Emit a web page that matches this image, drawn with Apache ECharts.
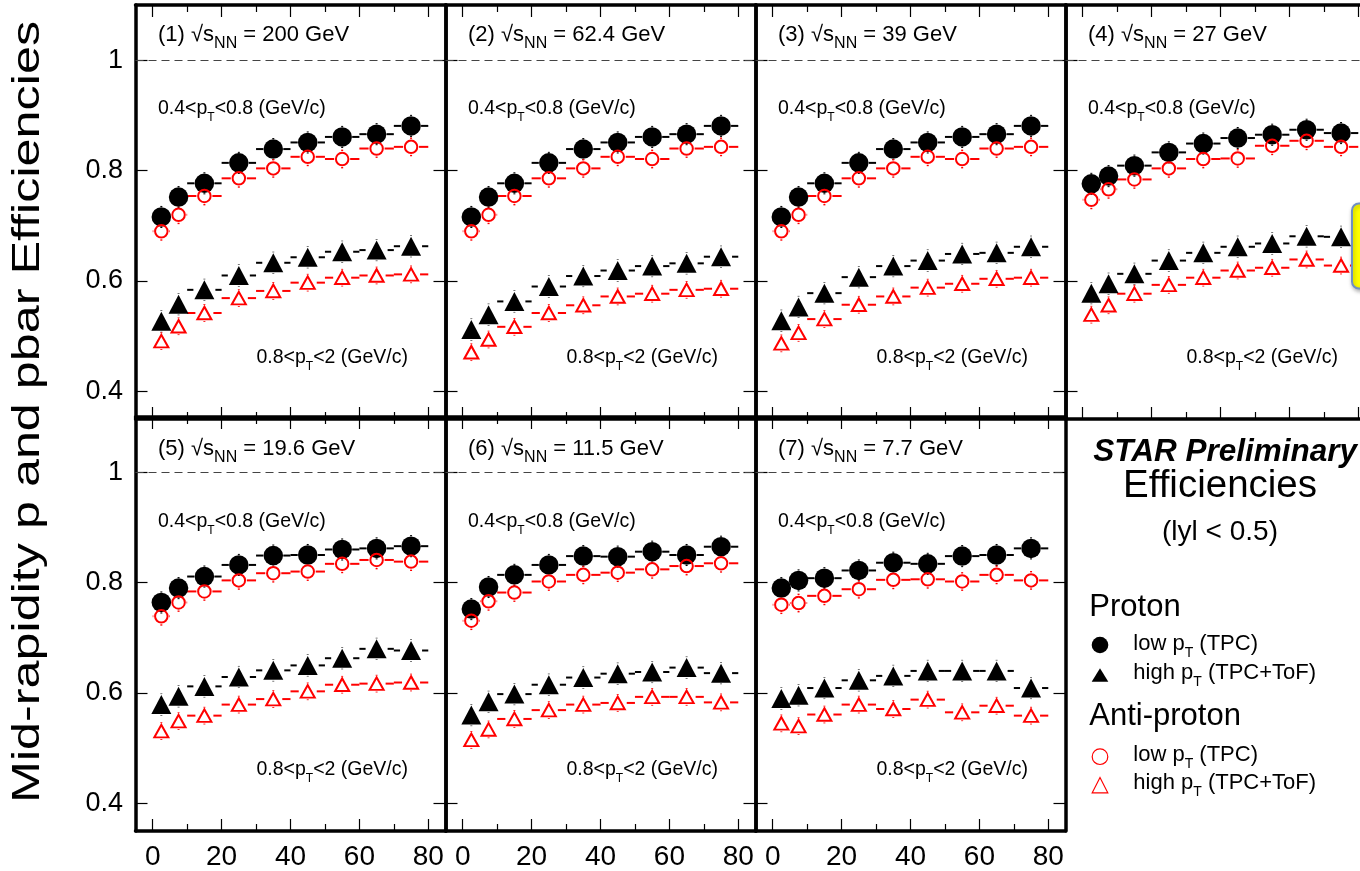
<!DOCTYPE html>
<html><head><meta charset="utf-8">
<script src="https://cdn.jsdelivr.net/npm/echarts@6/dist/echarts.min.js"></script>
<style>html,body{margin:0;padding:0;background:#fff}#c{width:1360px;height:871px}</style>
</head><body><div id="c"></div><script>
// ---- data ----
const binCenters = [2.5, 7.5, 15, 25, 35, 45, 55, 65, 75];
const binLow     = [0, 5, 10, 20, 30, 40, 50, 60, 70];
const binHigh    = [5, 10, 20, 30, 40, 50, 60, 70, 80];
const energies = ['200', '62.4', '39', '27', '19.6', '11.5', '7.7'];
const xTicks = [0, 20, 40, 60, 80];
const xMinorTicks = [10, 30, 50, 70];
const yTicks = [0.4, 0.6, 0.8, 1];

// proton, low pT (TPC) - filled circles
const protonLow = [
  [0.716, 0.752, 0.777, 0.814, 0.839, 0.851, 0.861, 0.866, 0.881],
  [0.716, 0.752, 0.777, 0.814, 0.839, 0.851, 0.861, 0.866, 0.881],
  [0.716, 0.752, 0.777, 0.814, 0.839, 0.851, 0.861, 0.866, 0.881],
  [0.776, 0.790, 0.809, 0.833, 0.849, 0.859, 0.865, 0.874, 0.868],
  [0.764, 0.790, 0.811, 0.832, 0.849, 0.850, 0.860, 0.862, 0.866],
  [0.752, 0.792, 0.814, 0.832, 0.848, 0.847, 0.856, 0.850, 0.865],
  [0.790, 0.804, 0.808, 0.822, 0.836, 0.834, 0.848, 0.850, 0.862]
];
// anti-proton, low pT (TPC) - open circles
const antiLow = [
  [0.690, 0.720, 0.754, 0.786, 0.804, 0.825, 0.821, 0.840, 0.843],
  [0.690, 0.720, 0.754, 0.786, 0.804, 0.825, 0.821, 0.840, 0.843],
  [0.690, 0.720, 0.754, 0.786, 0.804, 0.825, 0.821, 0.840, 0.843],
  [0.747, 0.766, 0.784, 0.804, 0.821, 0.822, 0.845, 0.854, 0.843],
  [0.739, 0.764, 0.784, 0.804, 0.817, 0.820, 0.834, 0.841, 0.838],
  [0.731, 0.766, 0.782, 0.802, 0.814, 0.818, 0.824, 0.830, 0.835],
  [0.760, 0.763, 0.776, 0.788, 0.805, 0.806, 0.802, 0.814, 0.804]
];
// proton, high pT (TPC+ToF) - filled triangles
const protonHigh = [
  [0.527, 0.558, 0.584, 0.610, 0.633, 0.643, 0.653, 0.656, 0.663],
  [0.512, 0.539, 0.563, 0.590, 0.609, 0.619, 0.627, 0.632, 0.644],
  [0.528, 0.553, 0.578, 0.607, 0.627, 0.637, 0.649, 0.651, 0.662],
  [0.578, 0.595, 0.613, 0.637, 0.651, 0.662, 0.668, 0.681, 0.680],
  [0.579, 0.594, 0.612, 0.629, 0.641, 0.650, 0.663, 0.680, 0.677],
  [0.560, 0.584, 0.598, 0.615, 0.628, 0.635, 0.638, 0.646, 0.636],
  [0.590, 0.596, 0.609, 0.623, 0.631, 0.640, 0.640, 0.640, 0.609]
];
// anti-proton, high pT (TPC+ToF) - open triangles
const antiHigh = [
  [0.491, 0.518, 0.542, 0.569, 0.582, 0.597, 0.606, 0.610, 0.612],
  [0.471, 0.494, 0.517, 0.542, 0.556, 0.572, 0.577, 0.584, 0.586],
  [0.487, 0.506, 0.531, 0.557, 0.572, 0.588, 0.595, 0.604, 0.606],
  [0.539, 0.556, 0.577, 0.593, 0.606, 0.619, 0.624, 0.639, 0.628],
  [0.531, 0.549, 0.559, 0.579, 0.589, 0.603, 0.615, 0.617, 0.619],
  [0.515, 0.534, 0.553, 0.569, 0.579, 0.582, 0.593, 0.593, 0.583],
  [0.545, 0.540, 0.561, 0.579, 0.571, 0.588, 0.565, 0.577, 0.559]
];
const errProtonLow = 0.02, errProtonHigh = 0.02, errAntiLow = 0.017, errAntiHigh = 0.016;

// ---- layout / style ----
const FONT = 'Liberation Sans';
const RED = '#ff0000';
const PW = 310, PH = 414;
const lefts = [135.5, 445.5, 755.5, 1065.5];
const tops = [5, 417];
const titleBase = [42.7, 456.7], lowBase = [115, 528.3], highBase = [364, 776];

const grid = [], xAxis = [], yAxis = [], series = [], graphic = [];

function errSeries(vals, err, color, hw, hh, xi, yi) {
  return {
    type: 'custom', xAxisIndex: xi, yAxisIndex: yi, silent: true, clip: false,
    data: vals.map((v, i) => [binCenters[i], v, binLow[i], binHigh[i], err]),
    encode: { x: 0, y: 1 },
    renderItem: (params, api) => {
      const x = api.value(0), y = api.value(1), lo = api.value(2), hi = api.value(3), e = api.value(4);
      const c = api.coord([x, y]), cl = api.coord([lo, y]), cr = api.coord([hi, y]);
      const ct = api.coord([x, y + e]), cb = api.coord([x, y - e]);
      const st = { stroke: color, lineWidth: 2 };
      const ch = [];
      if (c[0] - hw - cl[0] > 0.5) ch.push({ type: 'line', shape: { x1: cl[0], y1: c[1], x2: c[0] - hw, y2: c[1] }, style: st });
      if (cr[0] - (c[0] + hw) > 0.5) ch.push({ type: 'line', shape: { x1: c[0] + hw, y1: c[1], x2: cr[0], y2: c[1] }, style: st });
      if (c[1] - hh - ct[1] > 0.5) ch.push({ type: 'line', shape: { x1: c[0], y1: ct[1], x2: c[0], y2: c[1] - hh }, style: st });
      if (cb[1] - (c[1] + hh) > 0.5) ch.push({ type: 'line', shape: { x1: c[0], y1: c[1] + hh, x2: c[0], y2: cb[1] }, style: st });
      return { type: 'group', children: ch };
    }
  };
}
function pts(vals) { return vals.map((v, i) => [binCenters[i], v]); }

function richText(x, y, text, fs, subFs, subPad, lh, extra) {
  return Object.assign({
    type: 'text', x: x, y: y, silent: true,
    style: {
      text: text, align: 'left', verticalAlign: 'middle', fill: '#000',
      rich: {
        n: { fontSize: fs, fontFamily: FONT, lineHeight: lh, verticalAlign: 'middle', fill: '#000' },
        s: { fontSize: subFs, fontFamily: FONT, lineHeight: subFs, padding: [subPad, 0, 0, 0], verticalAlign: 'middle', fill: '#000' }
      }
    }
  }, extra || {});
}

for (let p = 0; p < 7; p++) {
  const row = p < 4 ? 0 : 1, col = p < 4 ? p : p - 4;
  const L = lefts[col], T = tops[row];
  const gA = grid.length; grid.push({ left: L, top: T, width: PW, height: PH, outerBoundsMode: 'none', containLabel: false });
  const gB = grid.length; grid.push({ left: L, top: T, width: PW, height: PH, outerBoundsMode: 'none', containLabel: false });
  const frame = { show: true, onZero: false, lineStyle: { color: '#000', width: 3.5 } };
  const noLine = { show: false, onZero: false };
  const tickMaj = { show: true, inside: true, length: 12, customValues: xTicks, lineStyle: { color: '#000', width: 1.2 } };
  const tickMin = { show: true, inside: true, length: 7, customValues: xMinorTicks, lineStyle: { color: '#000', width: 1.2 } };
  const xb = xAxis.length;
  xAxis.push({ type: 'value', gridIndex: gA, position: 'bottom', min: -5, max: 85, axisLine: frame, splitLine: { show: false },
    axisTick: tickMaj,
    axisLabel: { show: row === 1, customValues: xTicks, fontSize: 28, fontFamily: FONT, color: '#000', margin: 12 } });
  xAxis.push({ type: 'value', gridIndex: gA, position: 'top', min: -5, max: 85, axisLine: frame, splitLine: { show: false },
    axisTick: tickMaj, axisLabel: { show: false } });
  xAxis.push({ type: 'value', gridIndex: gB, position: 'bottom', min: -5, max: 85, axisLine: noLine, splitLine: { show: false },
    axisTick: tickMin, axisLabel: { show: false } });
  xAxis.push({ type: 'value', gridIndex: gB, position: 'top', min: -5, max: 85, axisLine: noLine, splitLine: { show: false },
    axisTick: tickMin, axisLabel: { show: false } });
  const yl = yAxis.length;
  const yTick = { show: true, inside: true, length: 12, customValues: yTicks, lineStyle: { color: '#000', width: 1.2 } };
  yAxis.push({ type: 'value', gridIndex: gA, position: 'left', min: 0.35, max: 1.1, axisLine: frame, splitLine: { show: false },
    axisTick: yTick,
    axisLabel: { show: col === 0, customValues: yTicks, fontSize: 27, fontFamily: FONT, color: '#000', margin: 12.5,
      formatter: v => (Math.abs(v - 1) < 1e-9 ? '1' : Number(v).toFixed(1)) } });
  yAxis.push({ type: 'value', gridIndex: gA, position: 'right', min: 0.35, max: 1.1, axisLine: frame, splitLine: { show: false },
    axisTick: yTick, axisLabel: { show: false } });
  yAxis.push({ type: 'value', gridIndex: gB, show: false, min: 0.35, max: 1.1 });

  // black circles
  series.push(errSeries(protonLow[p], errProtonLow, '#000', 10, 10, xb, yl));
  series.push({ type: 'scatter', xAxisIndex: xb, yAxisIndex: yl, silent: true, symbol: 'circle', symbolSize: 19.5,
    itemStyle: { color: '#000', opacity: 1 }, data: pts(protonLow[p]),
    markLine: { silent: true, symbol: ['none', 'none'], label: { show: false }, animation: false,
      lineStyle: { type: [8, 5], color: '#444', width: 1.2 }, data: [{ yAxis: 1 }] } });
  // black triangles
  series.push(errSeries(protonHigh[p], errProtonHigh, '#000', 11, 10.5, xb, yl));
  series.push({ type: 'scatter', xAxisIndex: xb, yAxisIndex: yl, silent: true, symbol: 'triangle', symbolSize: [20, 19],
    itemStyle: { color: '#000', opacity: 1 }, data: pts(protonHigh[p]) });
  // red open circles
  series.push(errSeries(antiLow[p], errAntiLow, RED, 8, 8, xb, yl));
  series.push({ type: 'scatter', xAxisIndex: xb, yAxisIndex: yl, silent: true, symbol: 'circle', symbolSize: 12.5,
    itemStyle: { color: 'rgba(255,255,255,0)', borderColor: RED, borderWidth: 2, opacity: 1 }, data: pts(antiLow[p]) });
  // red open triangles
  series.push(errSeries(antiHigh[p], errAntiHigh, RED, 9, 8, xb, yl));
  series.push({ type: 'scatter', xAxisIndex: xb, yAxisIndex: yl, silent: true, symbol: 'triangle', symbolSize: [14, 12.5],
    itemStyle: { color: 'rgba(255,255,255,0)', borderColor: RED, borderWidth: 2, opacity: 1 }, data: pts(antiHigh[p]) });

  // panel texts
  graphic.push(richText(L + 22.5, titleBase[row] - 7.7,
    '{n|(' + (p + 1) + ') \u221As}{s|NN}{n| = ' + energies[p] + ' GeV}', 22, 16, 18, 36));
  graphic.push(richText(L + 22.5, lowBase[row] - 6.8,
    '{n|0.4<p}{s|T}{n|<0.8 (GeV/c)}', 19.5, 12, 18, 32));
  graphic.push(richText(L + 121, highBase[row] - 6.8,
    '{n|0.8<p}{s|T}{n|<2 (GeV/c)}', 19.5, 12, 18, 32));
}

// y-axis title
graphic.push({ type: 'text', x: 28.5, y: 412, rotation: Math.PI / 2, scaleX: 1.29, silent: true,
  style: { text: 'Mid-rapidity p and pbar Efficiencies', fontSize: 39, fontFamily: FONT, fill: '#000',
    align: 'center', verticalAlign: 'middle' } });

// legend panel
graphic.push({ type: 'text', x: 1093.3, y: 452.8, silent: true,
  style: { text: 'STAR Preliminary', fontSize: 31.5, fontWeight: 'bold', fontStyle: 'italic', fontFamily: FONT, fill: '#000',
    align: 'left', verticalAlign: 'middle' } });
graphic.push({ type: 'text', x: 1220, y: 486.7, silent: true,
  style: { text: 'Efficiencies', fontSize: 38.5, fontFamily: FONT, fill: '#000', align: 'center', verticalAlign: 'middle' } });
graphic.push({ type: 'text', x: 1220, y: 531.9, silent: true,
  style: { text: '(lyl < 0.5)', fontSize: 28, fontFamily: FONT, fill: '#000', align: 'center', verticalAlign: 'middle' } });
graphic.push({ type: 'text', x: 1089.3, y: 607.4, silent: true,
  style: { text: 'Proton', fontSize: 31, fontFamily: FONT, fill: '#000', align: 'left', verticalAlign: 'middle' } });
graphic.push({ type: 'text', x: 1089.3, y: 716, silent: true,
  style: { text: 'Anti-proton', fontSize: 31, fontFamily: FONT, fill: '#000', align: 'left', verticalAlign: 'middle' } });
graphic.push(richText(1133.3, 644, '{n|low p}{s|T}{n| (TPC)}', 22, 14, 18, 34));
graphic.push(richText(1133.3, 673, '{n|high p}{s|T}{n| (TPC+ToF)}', 22, 14, 18, 34));
graphic.push(richText(1133.3, 755, '{n|low p}{s|T}{n| (TPC)}', 22, 14, 18, 34));
graphic.push(richText(1133.3, 783, '{n|high p}{s|T}{n| (TPC+ToF)}', 22, 14, 18, 34));
graphic.push({ type: 'circle', silent: true, shape: { cx: 1100, cy: 645, r: 8.3 }, style: { fill: '#000' } });
graphic.push({ type: 'polygon', silent: true, shape: { points: [[1091.7, 681.7], [1108.3, 681.7], [1100, 668.3]] }, style: { fill: '#000' } });
graphic.push({ type: 'circle', silent: true, shape: { cx: 1100, cy: 756.7, r: 7.8 }, style: { fill: 'none', stroke: RED, lineWidth: 1.2 } });
graphic.push({ type: 'polygon', silent: true, shape: { points: [[1092.2, 792.8], [1107.8, 792.8], [1100, 777.5]] }, style: { fill: 'none', stroke: RED, lineWidth: 1.2 } });
// yellow note box (partially visible at right edge), on top of everything
graphic.push({ type: 'rect', silent: true, z: 1000, zlevel: 1, shape: { x: 1352, y: 203.5, width: 40, height: 85, r: 7 },
  style: { fill: '#ffff00', stroke: '#6f8fc4', lineWidth: 2, shadowBlur: 4, shadowColor: 'rgba(0,0,0,0.3)', shadowOffsetX: 1, shadowOffsetY: 2 } });

const chart = echarts.init(document.getElementById('c'), null, { renderer: 'canvas' });
chart.setOption({
  animation: false,
  backgroundColor: '#fff',
  grid: grid, xAxis: xAxis, yAxis: yAxis, series: series, graphic: graphic
});
</script></body></html>
